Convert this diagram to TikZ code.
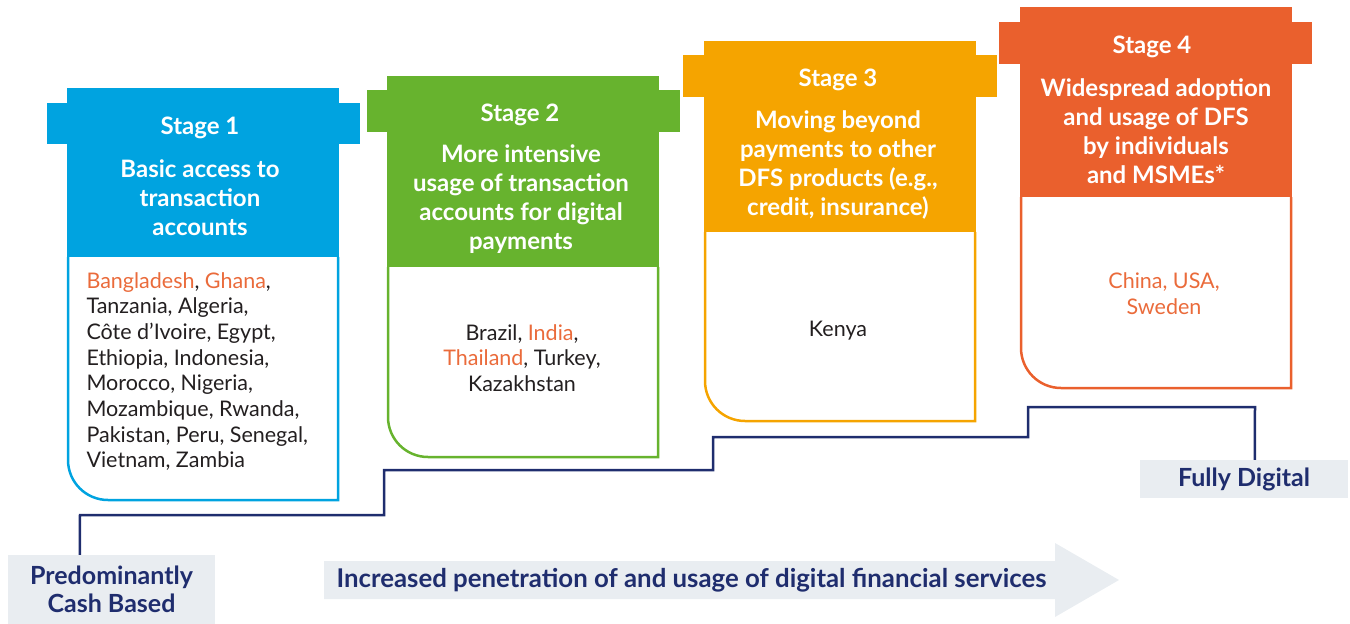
\documentclass[tikz,border=0pt]{standalone}
\usepackage{fontspec}
\setmainfont{Lato}
\usepackage{tikz}
\usetikzlibrary{calc,positioning}
\definecolor{stageA}{HTML}{00A3E0}
\definecolor{stageB}{HTML}{67B32E}
\definecolor{stageC}{HTML}{F5A400}
\definecolor{stageD}{HTML}{EA602D}
\definecolor{navy}{HTML}{1F2D6E}
\definecolor{mist}{HTML}{E9EDF1}
\definecolor{hilite}{HTML}{EA6B3B}
\definecolor{ink}{HTML}{231F20}
\tikzstyle{stagehead} = [font=\bfseries\fontsize{24}{29}\selectfont, text=white, align=center]
\tikzstyle{country}   = [font=\fontsize{21.5}{25.7}\selectfont, text=ink]
\tikzstyle{tag}       = [fill=mist, font=\bfseries\fontsize{25}{28}\selectfont, text=navy, align=center]
\tikzstyle{frame}     = [line width=2.5pt]
\tikzstyle{stair}     = [navy, line width=2.5pt]
\newcommand{\hl}[1]{{\color{hilite}#1}}

\begin{document}
\begin{tikzpicture}[x=1pt,y=-1pt]
		\useasboundingbox (0,0) rectangle (1350,624);

		% stage 1
		\fill[stageA] (66.75,88) rectangle (339.25,257);
		\fill[stageA] (47,103) rectangle (360,144);
		\draw[frame, stageA] (68,257) -- (68,460) arc[start angle=180, end angle=90, radius=40] -- (338,500) -- (338,257);
		\node[stagehead] (head1) at (200,128) {Stage 1};
		\node[stagehead] (title1) at (200,198) {Basic access to\\transaction\\accounts};
		\node[country, align=left, anchor=west] (list1) at (83,371.5) {\hl{Bangladesh}, \hl{Ghana},\\Tanzania, Algeria,\\Côte d’Ivoire, Egypt,\\Ethiopia, Indonesia,\\Morocco, Nigeria,\\Mozambique, Rwanda,\\Pakistan, Peru, Senegal,\\Vietnam, Zambia};

		% stage 2
		\fill[stageB] (386.75,76) rectangle (659.25,267);
		\fill[stageB] (367,90) rectangle (680,132);
		\draw[frame, stageB] (388,267) -- (388,417) arc[start angle=180, end angle=90, radius=40] -- (658,457) -- (658,267);
		\node[stagehead] (head2) at (520,115) {Stage 2};
		\node[stagehead] (title2) at (521,199.5) {More intensive\\usage of transaction\\accounts for digital\\payments};
		\node[country, align=center] (list2) at (522,358) {Brazil, \hl{India},\\\hl{Thailand}, Turkey,\\Kazakhstan};

		% stage 3
		\fill[stageC] (703.75,41) rectangle (976.25,232);
		\fill[stageC] (683,55) rectangle (997,97);
		\draw[frame, stageC] (705,232) -- (705,381) arc[start angle=180, end angle=90, radius=40] -- (975,421) -- (975,232);
		\node[stagehead] (head3) at (838,80) {Stage 3};
		\node[stagehead] (title3) at (838,164.5) {Moving beyond\\payments to other\\DFS products (e.g.,\\credit, insurance)};
		\node[country] (list3) at (838,331) {Kenya};

		% stage 4
		\fill[stageD] (1019.75,7) rectangle (1292.25,197);
		\fill[stageD] (999,22) rectangle (1312,64);
		\draw[frame, stageD] (1021,197) -- (1021,348) arc[start angle=180, end angle=90, radius=40] -- (1291,388) -- (1291,197);
		\node[stagehead] (head4) at (1152,47) {Stage 4};
		\node[stagehead] (title4) at (1156,131.5) {Widespread adoption\\and usage of DFS\\by individuals\\and MSMEs*};
		\node[country, align=center, text=hilite] (list4) at (1164,293.5) {China, USA,\\Sweden};

		% end points and the steps between them
		\node[tag, minimum width=207pt, minimum height=69pt] (cash) at (111.5,589.5) {Predominantly\\Cash Based};
		\node[tag, minimum width=208pt, minimum height=38pt] (digital) at (1244,479) {Fully Digital};
		\draw[stair] ($(cash.north west)+(72,0)$) -- (80,515) -- (384,515) -- (384,470) -- (713,470) -- (713,437)
			-- (1028,437) -- (1028,407) -- (1255,407) -- ($(digital.north west)+(115,0)$);

		% direction of travel
		\fill[mist] (324,561) -- (1055,561) -- (1055,543) -- (1119,580) -- (1055,617) -- (1055,599) -- (324,599) -- cycle;
		\node[font=\bfseries\fontsize{25.8}{28}\selectfont, text=navy, anchor=west] (trend) at (333,580) {Increased penetration of and usage of digital financial services};
	\end{tikzpicture}
\end{document}
